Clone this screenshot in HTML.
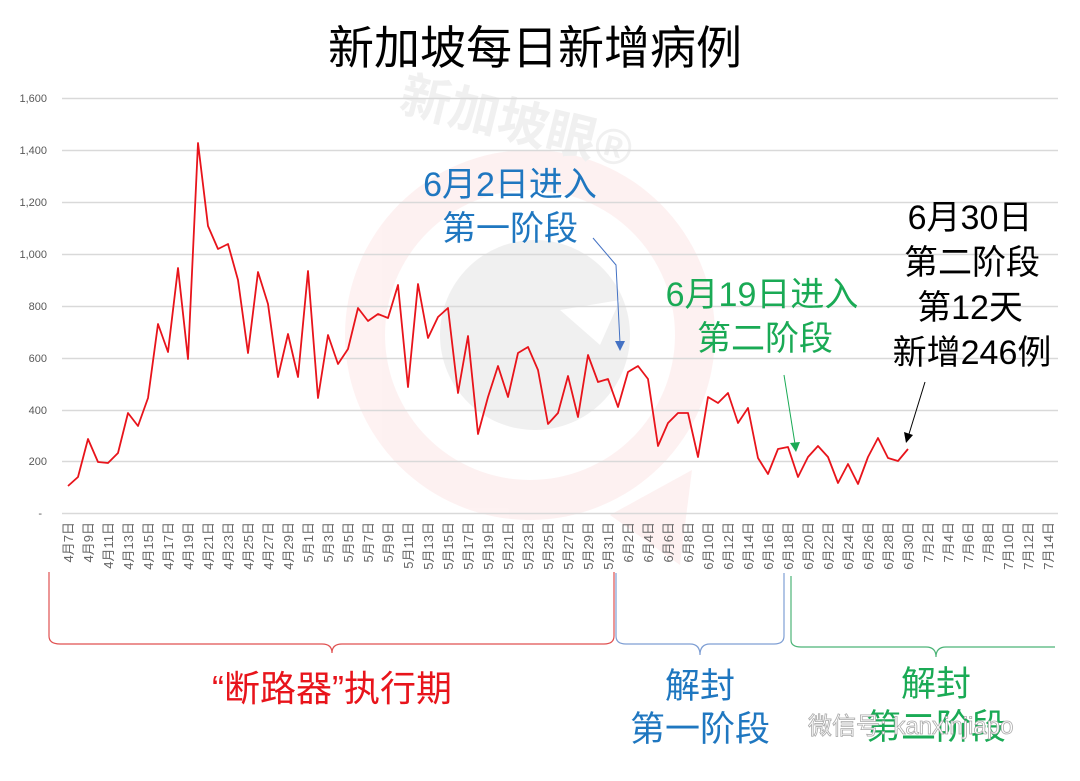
<!DOCTYPE html>
<html><head><meta charset="utf-8"><style>
body{margin:0;background:#fff;}
svg text{font-family:"Liberation Sans","Noto Sans CJK SC",sans-serif;}
</style></head><body>
<svg width="1080" height="776" viewBox="0 0 1080 776" xmlns="http://www.w3.org/2000/svg">
<rect width="1080" height="776" fill="#fff"/>
<!-- watermark -->
<g opacity="0.35">
<path d="M610 515 L680 565 L692 470 Z" fill="#fbd9d9"/>
<circle cx="530" cy="335" r="185" fill="#fbd9d9"/>
<circle cx="530" cy="335" r="145" fill="#fff"/>
<circle cx="535" cy="335" r="95" fill="#d6d6d6"/>
<path d="M560 310 L620 300 L600 345 Z" fill="#fff"/>
</g>
<text x="400" y="150" font-size="50" font-weight="bold" fill="#f0f0f0" transform="rotate(14 560 120)">新加坡眼®</text>
<!-- title -->
<text x="535" y="64" font-size="46" text-anchor="middle" fill="#000">新加坡每日新增病例</text>
<!-- grid -->
<g stroke="#d9d9d9" stroke-width="1.5">
<line x1="62" x2="1058" y1="98.5" y2="98.5"/>
<line x1="62" x2="1058" y1="150.5" y2="150.5"/>
<line x1="62" x2="1058" y1="202.5" y2="202.5"/>
<line x1="62" x2="1058" y1="254.5" y2="254.5"/>
<line x1="62" x2="1058" y1="306.5" y2="306.5"/>
<line x1="62" x2="1058" y1="358.5" y2="358.5"/>
<line x1="62" x2="1058" y1="410.5" y2="410.5"/>
<line x1="62" x2="1058" y1="461.5" y2="461.5"/>
<line x1="62" x2="1058" y1="513.5" y2="513.5"/>
</g>
<g font-size="11" fill="#595959" text-anchor="end">
<text x="47" y="102">1,600</text><text x="47" y="154">1,400</text><text x="47" y="206">1,200</text>
<text x="47" y="258">1,000</text><text x="47" y="310">800</text><text x="47" y="362">600</text>
<text x="47" y="414">400</text><text x="47" y="465">200</text><text x="42" y="517">-</text>
</g>
<!-- x labels -->
<g font-size="13" fill="#666" text-anchor="end" id="xl"></g>
<!-- series -->
<polyline fill="none" stroke="#e8141b" stroke-width="1.8" stroke-linejoin="round" points="68,486 78,477 88,439 98,462 108,463 118,453 128,413 138,426 148,398 158,324 168,352 178,268 188,359 198,143 208,226 218,249 228,244 238,280 248,353 258,272 268,304 278,377 288,334 298,377 308,271 318,398 328,335 338,364 348,349 358,308 368,321 378,314 388,318 398,285 408,387 418,284 428,338 438,317 448,308 458,393 468,336 478,434 488,397 498,366 508,397 518,353 528,347 538,370 548,424 558,413 568,376 578,417 588,355 598,382 608,379 618,407 628,372 638,366 648,379 658,446 668,423 678,413 688,413 698,457 708,397 718,403 728,393 738,423 748,408 758,458 768,474 778,449 788,447 798,477 808,457 818,446 828,457 838,483 848,464 858,484 868,457 878,438 888,458 898,461 908,449"/>
<!-- annotations -->
<text x="510" y="196" font-size="34" fill="#1f77c0" text-anchor="middle">6月2日进入</text>
<text x="510" y="240" font-size="34" fill="#1f77c0" text-anchor="middle">第一阶段</text>
<polyline points="593,238 616,265 620,343" fill="none" stroke="#4472c4" stroke-width="1"/>
<path d="M615 341 L625 341 L620 351 Z" fill="#4472c4"/>
<text x="762" y="306" font-size="34" fill="#1aaa55" text-anchor="middle">6月19日进入</text>
<text x="765" y="350" font-size="34" fill="#1aaa55" text-anchor="middle">第二阶段</text>
<line x1="784" y1="375" x2="795" y2="444" stroke="#1aaa55" stroke-width="1"/>
<path d="M790 443 L800 442 L796 452 Z" fill="#1aaa55"/>
<g font-size="34" fill="#000" text-anchor="middle">
<text x="970" y="229">6月30日</text><text x="972" y="274">第二阶段</text>
<text x="970" y="319">第12天</text><text x="972" y="364">新增246例</text></g>
<line x1="925" y1="382" x2="909" y2="434" stroke="#000" stroke-width="1"/>
<path d="M904 432 L913 435 L906 443 Z" fill="#000"/>
<!-- brackets -->
<path d="M49 572 L49 636 Q49 644 60 644 L322 644 Q332 644 332 653 Q332 644 342 644 L604 644 Q614 644 614 636 L614 572" fill="none" stroke="#e05050" stroke-width="1.2"/>
<path d="M616 573 L616 636 Q616 644 626 644 L690 644 Q700 644 700 655 Q700 644 710 644 L774 644 Q784 644 784 636 L784 573" fill="none" stroke="#7f9fd4" stroke-width="1.2"/>
<path d="M791 576 L791 640 Q791 647 801 647 L926 647 Q936 647 936 657 Q936 647 946 647 L1055 647" fill="none" stroke="#4cb477" stroke-width="1.2"/>
<text x="332" y="701" font-size="36" fill="#e8141b" text-anchor="middle">“断路器”执行期</text>
<text x="700" y="698" font-size="35" fill="#1f77c0" text-anchor="middle">解封</text>
<text x="700" y="741" font-size="35" fill="#1f77c0" text-anchor="middle">第一阶段</text>
<text x="936" y="696" font-size="35" fill="#1aaa55" text-anchor="middle">解封</text>
<text x="936" y="739" font-size="35" fill="#1aaa55" text-anchor="middle">第二阶段</text>
<text x="808" y="734" font-size="24" fill="#fff" stroke="#aaa" stroke-width="0.8" text-anchor="start">微信号: kanxinjiapo</text>
</svg>
<script>
(function(){
var g=document.getElementById('xl');var ns='http://www.w3.org/2000/svg';
for(var k=0;k<50;k++){
 var dt=new Date(2020,3,7+2*k);
 var s=(dt.getMonth()+1)+'月'+dt.getDate()+'日';
 var x=68+20*k+5;
 var t=document.createElementNS(ns,'text');
 t.setAttribute('transform','translate('+x+',522) rotate(-90)');
 t.textContent=s;g.appendChild(t);
}
})();
</script>
</body></html>
